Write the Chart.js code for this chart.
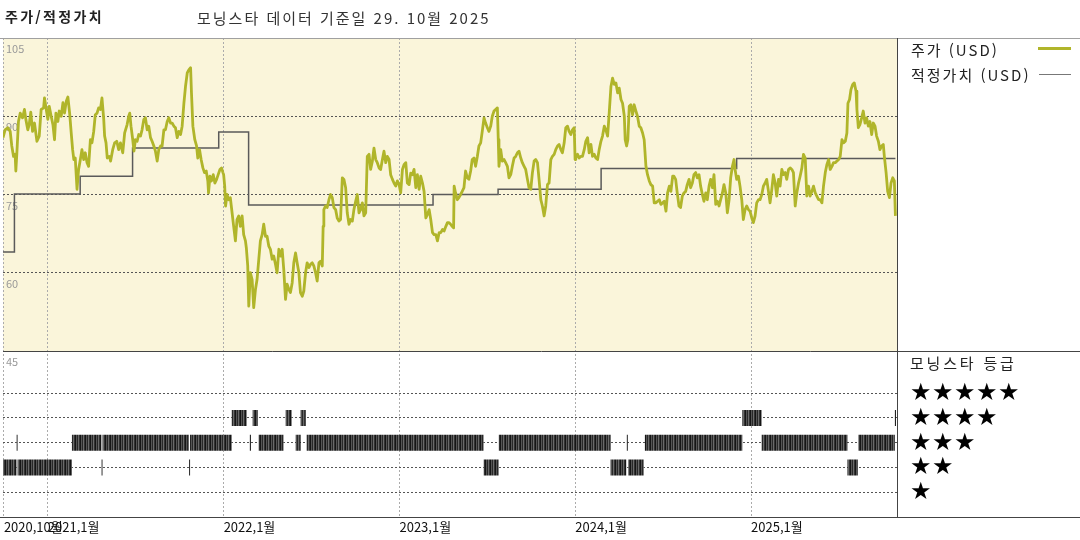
<!DOCTYPE html>
<html lang="ko">
<head>
<meta charset="utf-8">
<script src="https://cdn.jsdelivr.net/npm/chart.js@4.4.1/dist/chart.umd.min.js"></script>
<style>
  body { margin: 0; background: #fff; }
  #wrap { position: relative; width: 1080px; height: 540px; font-family: 'Noto Sans CJK KR', sans-serif; color: #222; }
  #wrap canvas { position: absolute; left: 0; top: 0; }
  .txt { position: absolute; white-space: nowrap; line-height: 1; letter-spacing: 2px; }
  .key { position: absolute; }
  .stars { position: absolute; left: 910px; font-family: 'DejaVu Sans', sans-serif; font-size: 24px; line-height: 1; letter-spacing: 0.5px; color: #000; white-space: nowrap; }
</style>
</head>
<body>
<div id="wrap">
  <canvas id="chart" width="1080" height="540"></canvas>
  <div class="txt" style="left:5px;top:9px;font-size:14px;font-weight:bold;letter-spacing:2.3px;">주가/적정가치</div>
  <div class="txt" style="left:197px;top:10px;font-size:15px;color:#333;">모닝스타 데이터 기준일 29. 10월 2025</div>
  <div class="txt" style="left:911px;top:42px;font-size:15px;">주가 (USD)</div>
  <div class="key" style="left:1038px;top:47px;width:33px;height:3px;background:#B0B52A;"></div>
  <div class="txt" style="left:911px;top:67px;font-size:15px;">적정가치 (USD)</div>
  <div class="key" style="left:1039px;top:74px;width:32px;height:1px;background:#777;"></div>
  <div class="txt" style="left:910px;top:355px;font-size:15px;letter-spacing:2.8px;">모닝스타 등급</div>
  <div id="stars"></div>
</div>
<script>
// x values are decimal years
const xMin = 2020.745
const xMax = 2025.83
const xTickValues = [2020.75, 2021, 2022, 2023, 2024, 2025]
const xTickLabels = ['2020,10월', '2021,1월', '2022,1월', '2023,1월', '2024,1월', '2025,1월']
const priceTicks = [45, 60, 75, 90, 105]
const ratingLevels = [5, 4, 3, 2, 1]

const priceDates = [
  2020.745, 2020.757, 2020.772, 2020.786, 2020.795, 2020.805, 2020.814, 2020.818, 2020.824, 2020.833,
  2020.843, 2020.856, 2020.867, 2020.875, 2020.886, 2020.894, 2020.903, 2020.913, 2020.924, 2020.938,
  2020.951, 2020.962, 2020.976, 2020.981, 2020.991, 2021.000, 2021.008, 2021.019, 2021.029, 2021.038,
  2021.046, 2021.057, 2021.065, 2021.076, 2021.086, 2021.095, 2021.105, 2021.114, 2021.124, 2021.133,
  2021.141, 2021.148, 2021.156, 2021.166, 2021.175, 2021.185, 2021.194, 2021.204, 2021.213, 2021.223,
  2021.232, 2021.242, 2021.251, 2021.261, 2021.270, 2021.280, 2021.289, 2021.299, 2021.308, 2021.318,
  2021.323, 2021.331, 2021.338, 2021.350, 2021.357, 2021.369, 2021.380, 2021.392, 2021.403, 2021.413,
  2021.426, 2021.437, 2021.451, 2021.460, 2021.466, 2021.473, 2021.483, 2021.490, 2021.498, 2021.508,
  2021.517, 2021.527, 2021.536, 2021.546, 2021.555, 2021.565, 2021.574, 2021.584, 2021.593, 2021.603,
  2021.612, 2021.622, 2021.631, 2021.641, 2021.650, 2021.660, 2021.669, 2021.679, 2021.688, 2021.698,
  2021.707, 2021.717, 2021.726, 2021.736, 2021.745, 2021.755, 2021.764, 2021.774, 2021.783, 2021.793,
  2021.802, 2021.812, 2021.817, 2021.825, 2021.836, 2021.846, 2021.853, 2021.863, 2021.872, 2021.882,
  2021.891, 2021.901, 2021.910, 2021.914, 2021.922, 2021.931, 2021.941, 2021.950, 2021.960, 2021.969,
  2021.979, 2021.988, 2021.996,
  2022.000, 2022.006, 2022.011, 2022.019, 2022.029, 2022.038, 2022.048, 2022.057, 2022.067, 2022.076,
  2022.086, 2022.095, 2022.105, 2022.114, 2022.124, 2022.129, 2022.137, 2022.143, 2022.152, 2022.162,
  2022.171, 2022.181, 2022.190, 2022.200, 2022.209, 2022.219, 2022.228, 2022.238, 2022.247, 2022.257,
  2022.266, 2022.276, 2022.285, 2022.295, 2022.304, 2022.314, 2022.323, 2022.333, 2022.342, 2022.352,
  2022.361, 2022.371, 2022.380, 2022.390, 2022.399, 2022.409, 2022.418, 2022.428, 2022.437, 2022.447,
  2022.456, 2022.466, 2022.475, 2022.485, 2022.494, 2022.504, 2022.513, 2022.523, 2022.532, 2022.542,
  2022.551, 2022.561, 2022.566, 2022.570, 2022.580, 2022.589, 2022.599, 2022.608, 2022.618, 2022.627,
  2022.637, 2022.646, 2022.656, 2022.665, 2022.675, 2022.684, 2022.694, 2022.703, 2022.713, 2022.722,
  2022.732, 2022.741, 2022.751, 2022.760, 2022.770, 2022.779, 2022.789, 2022.798, 2022.808, 2022.817,
  2022.827, 2022.836, 2022.846, 2022.855, 2022.865, 2022.874, 2022.884, 2022.893, 2022.903, 2022.912,
  2022.922, 2022.931, 2022.941, 2022.950, 2022.960, 2022.969, 2022.979, 2022.988, 2022.998, 2023.007,
  2023.017, 2023.026, 2023.036, 2023.045, 2023.055, 2023.064, 2023.074, 2023.083, 2023.093, 2023.102,
  2023.112, 2023.121, 2023.131, 2023.140, 2023.150, 2023.159, 2023.169, 2023.178, 2023.188, 2023.197,
  2023.207, 2023.216, 2023.226, 2023.235, 2023.245, 2023.254, 2023.264, 2023.273,
  2023.281, 2023.291, 2023.300, 2023.308, 2023.311, 2023.319, 2023.329, 2023.338, 2023.348, 2023.357,
  2023.367, 2023.376, 2023.386, 2023.395, 2023.405, 2023.414, 2023.424, 2023.433, 2023.443, 2023.452,
  2023.462, 2023.471, 2023.481, 2023.490, 2023.500, 2023.509, 2023.519, 2023.528, 2023.538, 2023.547,
  2023.557, 2023.562, 2023.566, 2023.576, 2023.585, 2023.595, 2023.604, 2023.614, 2023.623, 2023.633,
  2023.642, 2023.652, 2023.661, 2023.671, 2023.680, 2023.690, 2023.699, 2023.709, 2023.718, 2023.728,
  2023.737, 2023.747, 2023.756, 2023.766, 2023.775, 2023.785, 2023.794, 2023.804, 2023.813, 2023.823,
  2023.832, 2023.842, 2023.851, 2023.861, 2023.870, 2023.880, 2023.889, 2023.899, 2023.908, 2023.918,
  2023.927, 2023.937, 2023.946, 2023.956, 2023.965, 2023.975, 2023.984, 2023.994, 2023.999, 2024.003,
  2024.013, 2024.022, 2024.032, 2024.041, 2024.051, 2024.060, 2024.070, 2024.079, 2024.089, 2024.098,
  2024.108, 2024.117, 2024.127, 2024.136, 2024.146, 2024.155, 2024.165, 2024.174, 2024.184, 2024.193,
  2024.203, 2024.212, 2024.222, 2024.231, 2024.241, 2024.250, 2024.260, 2024.269, 2024.279, 2024.284,
  2024.292, 2024.299, 2024.307, 2024.316, 2024.326, 2024.335, 2024.345, 2024.354, 2024.364, 2024.373,
  2024.383, 2024.392, 2024.402, 2024.411, 2024.421, 2024.430, 2024.440, 2024.449, 2024.459, 2024.468,
  2024.478, 2024.487, 2024.497, 2024.506, 2024.516, 2024.525, 2024.535, 2024.544, 2024.554,
  2024.561, 2024.571, 2024.580, 2024.590, 2024.599, 2024.609, 2024.618, 2024.628, 2024.637, 2024.647,
  2024.656, 2024.666, 2024.675, 2024.685, 2024.694, 2024.704, 2024.713, 2024.723, 2024.732, 2024.742,
  2024.751, 2024.761, 2024.770, 2024.780, 2024.789, 2024.799, 2024.808, 2024.818, 2024.827, 2024.837,
  2024.846, 2024.856, 2024.865, 2024.875, 2024.884, 2024.894, 2024.903, 2024.909, 2024.918, 2024.928,
  2024.937, 2024.947, 2024.956, 2024.966, 2024.975, 2024.985, 2024.994, 2025.004, 2025.013, 2025.023,
  2025.032, 2025.042, 2025.051, 2025.061, 2025.070, 2025.080, 2025.089, 2025.099, 2025.108, 2025.118,
  2025.127, 2025.137, 2025.146, 2025.156, 2025.165, 2025.175, 2025.184, 2025.194, 2025.203, 2025.213,
  2025.222, 2025.232, 2025.241, 2025.251, 2025.260, 2025.270, 2025.279, 2025.289, 2025.298, 2025.308,
  2025.317, 2025.327, 2025.336, 2025.346, 2025.355, 2025.365, 2025.374, 2025.384, 2025.393, 2025.403,
  2025.412, 2025.422, 2025.431, 2025.441, 2025.450, 2025.460, 2025.469, 2025.479, 2025.488, 2025.498,
  2025.507, 2025.517, 2025.526, 2025.536, 2025.545, 2025.551, 2025.560, 2025.568, 2025.578, 2025.587,
  2025.597, 2025.602, 2025.610, 2025.619, 2025.629, 2025.638, 2025.648, 2025.657, 2025.667, 2025.676,
  2025.686, 2025.695, 2025.705, 2025.714, 2025.724, 2025.733, 2025.743, 2025.752, 2025.758, 2025.768,
  2025.777, 2025.787, 2025.796, 2025.806, 2025.815, 2025.821
]
const priceValues = [
  85.9, 87.4, 87.8, 87.1, 84.3, 82.3, 82.7, 79.5, 83.0, 89.0,
  90.6, 89.7, 91.3, 89.4, 87.4, 88.4, 90.8, 87.1, 88.7, 85.2,
  86.2, 91.3, 91.6, 93.5, 91.3, 89.4, 91.9, 90.0, 88.4, 85.5,
  90.6, 89.0, 91.0, 90.0, 92.6, 90.6, 92.9, 93.7, 90.6, 86.8,
  83.6, 81.7, 82.0, 76.0, 79.8, 81.7, 83.6, 81.7, 83.0, 81.1,
  80.4, 85.5, 84.9, 87.1, 90.3, 90.6, 91.6, 91.3, 93.5, 89.4,
  86.2, 84.9, 82.0, 82.3, 81.4, 83.6, 84.9, 85.2, 83.6, 84.9,
  83.0, 86.8, 88.4, 90.0, 90.6, 88.1, 85.5, 83.3, 85.5, 85.2,
  86.5, 86.2, 87.4, 89.4, 89.7, 87.4, 88.1, 85.9, 85.2, 84.3,
  83.3, 81.4, 83.6, 84.3, 84.3, 87.4, 87.4, 89.0, 89.7, 88.7,
  88.7, 88.1, 87.8, 85.9, 87.1, 86.5, 88.1, 92.5, 95.7, 98.3,
  98.9, 99.3, 94.5, 88.1, 85.5, 84.3, 82.0, 83.6, 81.7, 80.1,
  79.2, 79.5, 77.6, 75.3, 78.5, 77.6, 78.8, 77.2, 77.9, 78.8,
  79.8, 80.1, 79.2,
  78.8, 76.6, 72.8, 75.0, 74.0, 74.4, 71.5, 68.9, 66.1, 70.2,
  70.9, 68.9, 70.9, 67.3, 66.1, 64.8, 61.3, 53.6, 60.0, 58.7,
  53.3, 56.8, 58.7, 62.6, 66.1, 67.3, 69.3, 67.0, 67.0, 65.1,
  64.5, 62.6, 63.2, 61.6, 60.0, 64.5, 63.2, 64.5, 60.6, 54.9,
  57.8, 56.8, 56.2, 58.1, 61.9, 63.8, 61.9, 60.0, 56.2, 55.5,
  56.5, 60.0, 61.9, 61.0, 61.6, 61.9, 61.3, 60.0, 58.4, 61.9,
  62.2, 61.3, 68.9, 72.1, 72.8, 72.5, 74.0, 75.0, 74.4, 72.5,
  72.1, 70.5, 69.9, 70.2, 78.2, 77.9, 76.3, 71.5, 69.3, 70.2,
  69.9, 72.1, 73.7, 75.0, 71.5, 72.1, 73.4, 70.9, 71.5, 82.3,
  82.7, 79.8, 81.4, 83.9, 81.7, 81.1, 80.1, 79.8, 81.7, 83.3,
  81.1, 82.3, 81.7, 78.8, 77.9, 77.2, 76.6, 77.6, 76.9, 75.3,
  79.8, 80.7, 81.1, 77.2, 76.9, 79.1, 78.8, 79.8, 76.3, 78.8,
  76.0, 78.5, 77.2, 75.6, 70.5, 71.2, 72.1, 70.2, 67.7, 67.3,
  67.3, 66.1, 67.7, 67.7, 68.3, 68.0, 68.9, 69.6,
  69.6, 69.3, 68.9, 68.6, 76.6, 75.3, 74.0, 74.4, 75.0, 75.6,
  76.3, 79.5, 78.2, 77.9, 79.5, 81.7, 82.0, 80.4, 82.3, 84.3,
  84.9, 87.1, 89.7, 88.7, 87.8, 87.1, 88.1, 90.0, 91.0, 91.3,
  91.6, 85.5, 80.4, 83.6, 81.4, 81.7, 81.1, 80.4, 78.2, 78.8,
  80.4, 82.0, 82.3, 83.0, 83.3, 82.0, 81.1, 80.4, 79.8, 77.9,
  76.3, 76.0, 79.1, 81.4, 81.7, 81.1, 77.9, 74.0, 72.8, 70.9,
  72.8, 76.9, 77.2, 81.7, 82.3, 82.7, 83.6, 84.3, 84.6, 83.6,
  83.0, 84.9, 87.8, 88.1, 87.1, 86.5, 87.4, 87.8, 81.7, 82.0,
  82.7, 82.0, 82.3, 82.3, 83.6, 85.2, 85.9, 83.0, 84.6, 82.3,
  82.7, 82.0, 81.7, 83.6, 85.2, 86.2, 88.1, 87.4, 86.2, 90.6,
  95.7, 97.3, 96.1, 96.4, 94.5, 95.4, 93.2, 92.5, 90.0, 85.5,
  84.3, 85.5, 91.9, 92.2, 90.3, 92.2, 91.0, 90.0, 88.1, 87.8,
  86.8, 85.5, 80.4, 78.8, 77.6, 76.9, 76.6, 73.4, 73.4, 73.7,
  74.0, 73.1, 73.4, 73.7, 71.8, 75.3, 76.6, 75.6, 78.5,
  78.5, 77.9, 75.3, 72.8, 72.5, 74.7, 75.3, 75.6, 76.9, 77.9,
  76.3, 77.2, 78.8, 79.2, 78.2, 78.8, 76.6, 75.0, 73.7, 75.3,
  74.0, 76.6, 77.9, 76.3, 78.8, 73.1, 73.7, 72.8, 74.0, 75.3,
  76.9, 75.3, 71.5, 74.0, 78.2, 80.4, 81.7, 79.8, 77.9, 78.5,
  76.6, 74.0, 70.2, 72.1, 72.8, 72.1, 71.8, 70.5, 69.6, 70.9,
  73.4, 74.0, 74.0, 75.0, 76.6, 77.2, 77.9, 75.6, 73.4, 76.0,
  78.8, 77.2, 74.7, 77.9, 76.6, 79.8, 78.8, 79.2, 77.9, 79.8,
  80.1, 79.8, 79.2, 72.8, 75.3, 77.2, 78.5, 80.1, 82.7, 82.0,
  74.7, 76.6, 74.7, 75.6, 76.6, 75.3, 74.7, 74.0, 74.0, 73.4,
  76.6, 79.2, 80.7, 81.7, 79.8, 80.4, 81.1, 81.1, 81.4, 81.7,
  82.3, 85.5, 84.9, 85.2, 86.8, 92.5, 93.2, 95.1, 96.1, 96.4,
  94.8, 91.3, 87.8, 88.4, 89.7, 91.0, 88.7, 89.7, 88.1, 89.0,
  86.5, 88.7, 88.1, 86.2, 85.2, 83.6, 84.3, 84.6, 82.3, 79.2,
  75.6, 74.4, 77.2, 78.2, 77.6, 70.9
]

// fair value changes: date of change and new level
const fairValueDates = [2020.745, 2020.810, 2021.184, 2021.482, 2021.972, 2022.142, 2023.191, 2023.561, 2024.147, 2024.918, 2025.821]
const fairValues = [64.0, 75.1, 78.5, 83.9, 87.0, 73.0, 75.0, 76.0, 80.0, 81.9, 81.9]

// morningstar rating periods: [from, to, stars]
const ratingPeriods = [
  [2020.745, 2020.822, 2], [2020.822, 2020.828, 3], [2020.828, 2021.137, 2],
  [2021.137, 2021.305, 3], [2021.305, 2021.311, 2], [2021.311, 2021.803, 3],
  [2021.803, 2021.809, 2], [2021.809, 2022.046, 3], [2022.046, 2022.131, 4],
  [2022.149, 2022.155, 3], [2022.165, 2022.194, 4], [2022.199, 2022.341, 3],
  [2022.353, 2022.387, 4], [2022.410, 2022.438, 3], [2022.438, 2022.467, 4],
  [2022.472, 2023.479, 3], [2023.479, 2023.565, 2], [2023.565, 2024.201, 3],
  [2024.201, 2024.290, 2], [2024.293, 2024.299, 3], [2024.301, 2024.390, 2],
  [2024.396, 2024.950, 3], [2024.950, 2025.060, 4], [2025.060, 2025.548, 3],
  [2025.548, 2025.607, 2], [2025.610, 2025.818, 3], [2025.818, 2025.824, 4]
]

const canvas = document.getElementById('chart')
const ctx2d = canvas.getContext('2d')

// striped fill like the dense daily rating bars
const stripeCanvas = document.createElement('canvas')
stripeCanvas.width = 5
stripeCanvas.height = 1
const sg = stripeCanvas.getContext('2d')
;['#151515', '#555555', '#282828', '#6a6a6a', '#333333'].forEach((c, i) => {
  sg.fillStyle = c
  sg.fillRect(i, 0, 1, 1)
})
const stripes = ctx2d.createPattern(stripeCanvas, 'repeat')

const ratingPoints = ratingPeriods.flatMap(([from, to, stars]) => [
  {x: from, y: stars}, {x: to, y: stars}, {x: to, y: null}
])

const panels = {
  id: 'panels',
  beforeDraw(chart) {
    const {ctx, chartArea} = chart
    const y = chart.scales.y
    ctx.save()
    ctx.fillStyle = '#FAF5DA'
    ctx.fillRect(chartArea.left, y.top, chartArea.right - chartArea.left, y.bottom - y.top)
    ctx.restore()
  },
  afterDraw(chart) {
    const {ctx, chartArea, width} = chart
    const y = chart.scales.y
    const line = (x1, y1, x2, y2) => {
      ctx.beginPath()
      ctx.moveTo(x1, y1)
      ctx.lineTo(x2, y2)
      ctx.stroke()
    }
    ctx.save()
    ctx.lineWidth = 1
    ctx.strokeStyle = '#a0a0a0'
    line(0, chartArea.top + 0.5, width, chartArea.top + 0.5)
    ctx.strokeStyle = '#444'
    line(chartArea.left, Math.round(y.bottom) + 0.5, width, Math.round(y.bottom) + 0.5)
    line(0, Math.round(chartArea.bottom) + 0.5, width, Math.round(chartArea.bottom) + 0.5)
    line(Math.round(chartArea.right) + 0.5, chartArea.top, Math.round(chartArea.right) + 0.5, chartArea.bottom)
    ctx.restore()
  }
}

Chart.defaults.font.family = "'Noto Sans CJK KR', 'DejaVu Sans', sans-serif"

const chart = new Chart(canvas, {
  type: 'line',
  data: {
    datasets: [
      {
        label: '주가 (USD)',
        data: priceDates.map((d, i) => ({x: d, y: priceValues[i]})),
        borderColor: '#B0B52A',
        borderWidth: 2.8,
        borderJoinStyle: 'round',
        pointRadius: 0,
        yAxisID: 'y',
        order: 0
      },
      {
        label: '적정가치 (USD)',
        data: fairValueDates.map((d, i) => ({x: d, y: fairValues[i]})),
        stepped: true,
        borderColor: '#5a5a5a',
        borderWidth: 1.5,
        pointRadius: 0,
        yAxisID: 'y',
        order: 1
      },
      {
        label: '모닝스타 등급',
        data: ratingPoints,
        borderColor: stripes,
        borderWidth: 16,
        borderCapStyle: 'butt',
        pointRadius: 0,
        spanGaps: false,
        yAxisID: 'yr',
        order: 2
      }
    ]
  },
  options: {
    responsive: false,
    animation: false,
    layout: {padding: {left: 3, right: 183, top: 38, bottom: 0}},
    plugins: {
      legend: {display: false},
      tooltip: {enabled: false}
    },
    scales: {
      x: {
        type: 'linear',
        min: xMin,
        max: xMax,
        afterBuildTicks: s => { s.ticks = xTickValues.map(v => ({value: v})) },
        afterFit: s => { s.height = 23 },
        ticks: {
          autoSkip: false,
          maxRotation: 0,
          minRotation: 0,
          align: 'start',
          padding: 2,
          color: '#111',
          font: {size: 13},
          callback: (v, i) => xTickLabels[i]
        },
        grid: {color: '#ababab', drawTicks: false},
        border: {display: false, dash: [2, 2]}
      },
      // left boxes are laid out in reverse, so the lower panel comes first here
      yr: {
        type: 'linear',
        position: 'left',
        stack: 'panel',
        stackWeight: 166,
        min: 0,
        max: 6.7,
        afterBuildTicks: s => { s.ticks = ratingLevels.map(v => ({value: v})) },
        afterFit: s => { s.width = 0 },
        ticks: {display: false},
        grid: {drawTicks: false, color: '#555'},
        border: {display: false, dash: [2, 2]}
      },
      y: {
        type: 'linear',
        position: 'left',
        stack: 'panel',
        stackWeight: 313,
        min: 45,
        max: 105,
        afterBuildTicks: s => { s.ticks = priceTicks.map(v => ({value: v})) },
        afterFit: s => { s.width = 0 },
        ticks: {
          mirror: true,
          labelOffset: 11,
          padding: 3,
          color: '#999',
          font: {size: 11},
          callback: v => String(v)
        },
        grid: {
          drawTicks: false,
          color: c => (c.tick && c.tick.value > 45 && c.tick.value < 105) ? '#555' : 'rgba(0,0,0,0)'
        },
        border: {display: false, dash: [2, 2]}
      }
    }
  },
  plugins: [panels]
})

// star rows in the right panel, lined up with the rating levels
const starBox = document.getElementById('stars')
ratingLevels.forEach(level => {
  const row = document.createElement('div')
  row.className = 'stars'
  row.textContent = '★'.repeat(level)
  row.style.top = (chart.scales.yr.getPixelForValue(level) - 13) + 'px'
  starBox.appendChild(row)
})
</script>
</body>
</html>
